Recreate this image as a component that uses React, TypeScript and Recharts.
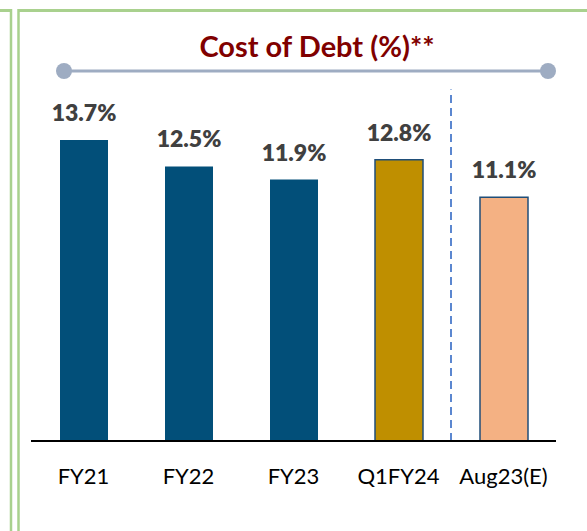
import { Bar, BarChart, Cell, LabelList, ReferenceLine, XAxis, YAxis } from "recharts"

const periods = ["FY21", "FY22", "FY23", "Q1FY24", "Aug23(E)"]
const costOfDebt = [13.7, 12.5, 11.9, 12.8, 11.1]

const data = periods.map((period, i) => ({ period, value: costOfDebt[i] }))

const barFills = ["#024F79", "#024F79", "#024F79", "#BF8F00", "#F4B183"]
const barStrokes = ["none", "none", "none", "#1F4E79", "#1F4E79"]

const font = "Lato, 'Open Sans', sans-serif"

export default function App() {
    return (
        <div style={{ position: "absolute", left: 0, top: 0, width: 587, height: 531, background: "#fff", overflow: "hidden" }}>
            {/* panel borders + header rule */}
            <svg width={587} height={531} style={{ position: "absolute", left: 0, top: 0 }}>
                <line x1={0} y1={10.5} x2={12} y2={10.5} stroke="#A9D18E" strokeWidth={3} />
                <line x1={11} y1={9} x2={11} y2={531} stroke="#A9D18E" strokeWidth={2.5} />
                <line x1={18} y1={10.5} x2={587} y2={10.5} stroke="#A9D18E" strokeWidth={3} />
                <line x1={18.5} y1={9} x2={18.5} y2={531} stroke="#A9D18E" strokeWidth={2.5} />
                <line x1={64} y1={71} x2={548} y2={71} stroke="#9EACC2" strokeWidth={3} />
                <circle cx={64} cy={71} r={8} fill="#9EACC2" />
                <circle cx={548} cy={71} r={8} fill="#9EACC2" />
                <text x={317} y={57} textAnchor="middle" fontFamily={font} fontWeight={700} fontSize={29} fill="#800000">
                    Cost of Debt (%)**
                </text>
            </svg>
            <div style={{ position: "absolute", left: 0, top: 0 }}>
                <BarChart width={587} height={531} data={data} margin={{ top: 89.5, right: 31, left: 31, bottom: 30 }}>
                    <XAxis
                        dataKey="period"
                        tickLine={false}
                        tickSize={0}
                        tickMargin={27}
                        height={60}
                        axisLine={{ stroke: "#000", strokeWidth: 2 }}
                        tick={{ fill: "#000", fontSize: 22, fontFamily: font }}
                        interval={0}
                    />
                    <YAxis hide domain={[0, 16]} />
                    <ReferenceLine
                        x="Aug23(E)"
                        position="start"
                        stroke="#5B87D0"
                        strokeWidth={2}
                        strokeDasharray="8 5"
                    />
                    <Bar dataKey="value" barSize={48} isAnimationActive={false}>
                        {data.map((d, i) => (
                            <Cell key={d.period} fill={barFills[i]} stroke={barStrokes[i]} strokeWidth={1.5} />
                        ))}
                        <LabelList
                            dataKey="value"
                            position="top"
                            offset={19}
                            formatter={(v: number) => `${v}%`}
                            fill="#404040"
                            fontSize={23}
                            fontWeight={800}
                            fontFamily={font}
                        />
                    </Bar>
                </BarChart>
            </div>
        </div>
    )
}
